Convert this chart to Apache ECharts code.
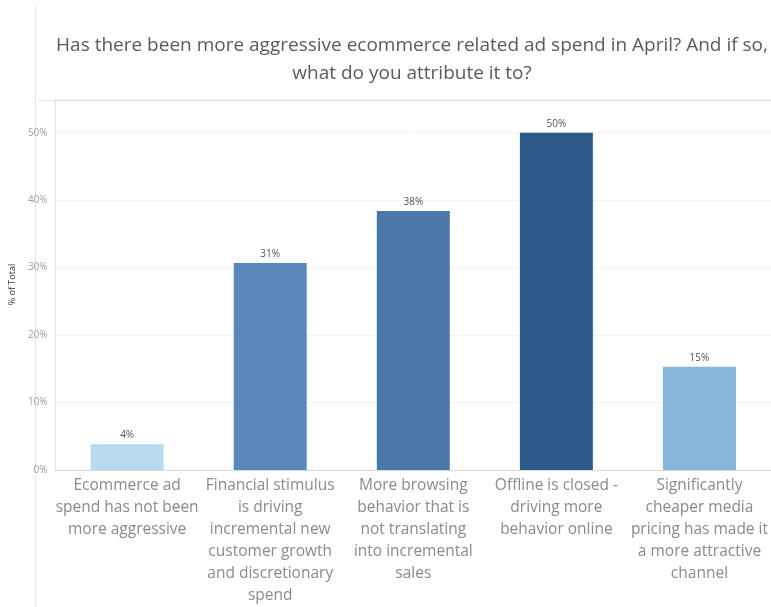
<!DOCTYPE html>
<html>
<head>
<meta charset="utf-8">
<script src="https://cdn.jsdelivr.net/npm/echarts@6/dist/echarts.min.js"></script>
<style>
  html, body { margin: 0; padding: 0; background: #fff; }
  #chart { width: 771px; height: 607px; }
</style>
</head>
<body>
<div id="chart"></div>
<script>
// Survey answers (x axis) and share of respondents (%)
const categories = [
  'Ecommerce ad\nspend has not been\nmore aggressive',
  'Financial stimulus\nis driving\nincremental new\ncustomer growth\nand discretionary\nspend',
  'More browsing\nbehavior that is\nnot translating\ninto incremental\nsales',
  'Offline is closed -\ndriving more\nbehavior online',
  'Significantly\ncheaper media\npricing has made it\na more attractive\nchannel'
];
const shares = [3.8, 30.7, 38.4, 50.0, 15.3];
const barColors = ['#b7daf0', '#5a88bb', '#4a79a8', '#2b5a88', '#86b6dc'];
const yTicks = { min: 0, max: 55, step: 10 };

const titleText = 'Has there been more aggressive ecommerce related ad spend in April? And if so,\nwhat do you attribute it to?';
const FONT = '"Open Sans", "Noto Sans", sans-serif';

const chart = echarts.init(document.getElementById('chart'), null, { renderer: 'canvas' });

chart.setOption({
  animation: false,
  backgroundColor: '#ffffff',
  textStyle: { fontFamily: FONT },
  title: {
    text: titleText,
    left: 407,
    top: 27,
    textAlign: 'center',
    textStyle: {
      fontFamily: FONT,
      fontSize: 19,
      fontWeight: 'normal',
      color: '#5a5a5a',
      lineHeight: 28
    }
  },
  graphic: [
    { type: 'line', shape: { x1: 35.5, y1: 5, x2: 35.5, y2: 607 }, style: { stroke: '#e6e6e6', lineWidth: 1 } },
    { type: 'line', shape: { x1: 38, y1: 100.5, x2: 771, y2: 100.5 }, style: { stroke: '#e2e2e2', lineWidth: 1 } }
  ],
  grid: { left: 53, right: -3, top: 99, bottom: 135, containLabel: false },
  xAxis: {
    type: 'category',
    data: categories,
    axisLine: { show: true, lineStyle: { color: '#d9d9d9' } },
    axisTick: { show: false },
    axisLabel: {
      interval: 0,
      color: '#8a8a8a',
      fontFamily: FONT,
      fontSize: 15.5,
      lineHeight: 22,
      margin: 5
    }
  },
  yAxis: {
    type: 'value',
    min: yTicks.min,
    max: yTicks.max,
    interval: yTicks.step,
    name: '% of Total',
    nameLocation: 'middle',
    nameRotate: 90,
    nameGap: 38,
    nameTextStyle: { color: '#333333', fontSize: 9, fontFamily: FONT },
    axisLine: { show: true, lineStyle: { color: '#e3e3e3' } },
    axisTick: { show: false },
    splitLine: { show: true, lineStyle: { color: '#f2f2f2' } },
    axisLabel: {
      formatter: '{value}%',
      color: '#a0a0a0',
      fontSize: 10,
      margin: 8,
      showMaxLabel: false
    }
  },
  series: [{
    type: 'bar',
    data: shares.map((v, i) => ({ value: v, itemStyle: { color: barColors[i] } })),
    barWidth: '51%',
    label: {
      show: true,
      position: 'top',
      distance: 4,
      color: '#555555',
      fontSize: 10,
      fontFamily: FONT,
      formatter: p => Math.round(p.value) + '%'
    }
  }]
});
</script>
</body>
</html>
